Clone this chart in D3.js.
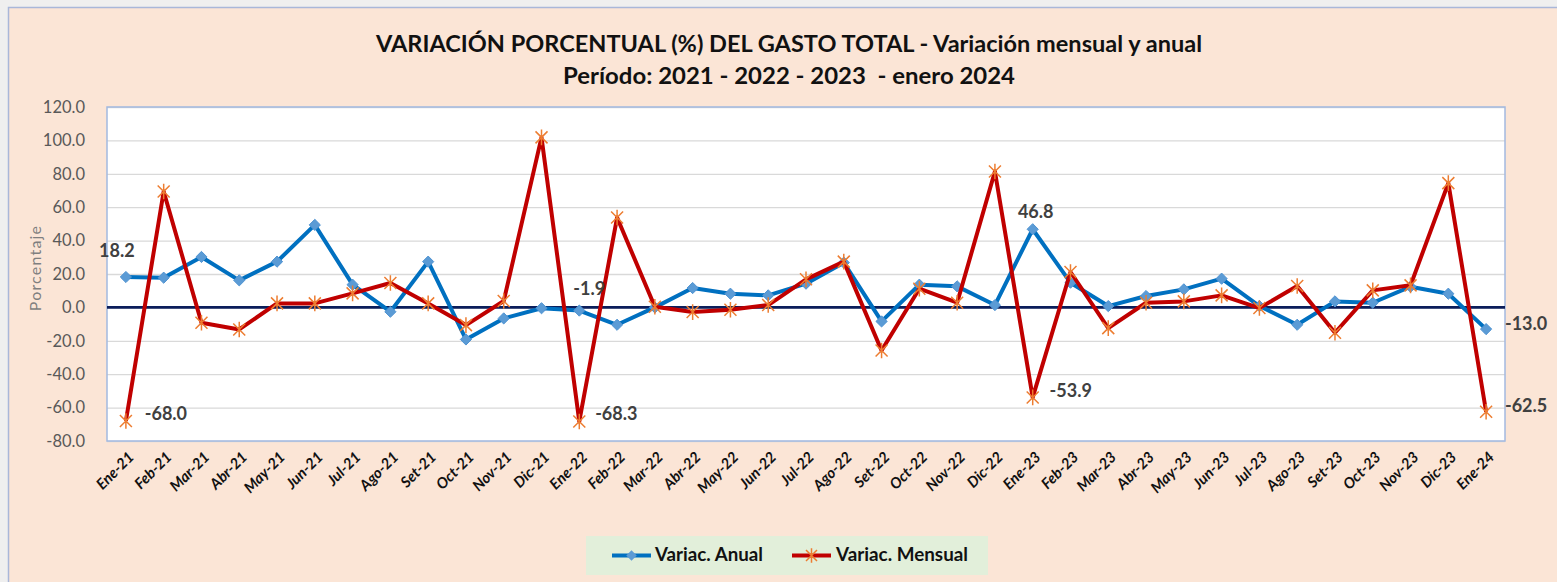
<!DOCTYPE html>
<html>
<head>
<meta charset="utf-8">
<script src="https://cdn.jsdelivr.net/npm/d3@7"></script>
<style>
  html, body { margin: 0; padding: 0; background: #efefef; }
  svg { display: block; }
  .grid line { stroke: #d9d9d9; stroke-width: 1.3; }
  .grid path { display: none; }
  .axis path, .axis line { display: none; }
  .axis.y text { font-family: Lato, sans-serif; font-size: 16.5px; fill: #595959; }
  .axis.x text { font-family: Lato, sans-serif; font-size: 15px; font-weight: bold; font-style: italic; fill: #111; }
  .data-label { font-family: Lato, sans-serif; font-size: 18px; font-weight: bold; fill: #404040; }
</style>
</head>
<body>
<div id="figure-container"></div>
<script>
// categories
var months = ['Ene','Feb','Mar','Abr','May','Jun','Jul','Ago','Set','Oct','Nov','Dic'];
var categories = [];
['21','22','23'].forEach(function(yr){ months.forEach(function(m){ categories.push(m + '-' + yr); }); });
categories.push('Ene-24');

// Variac. Anual
var anual = [18.2, 17.8, 30.2, 16.2, 27.4, 49.4, 13.6, -2.6, 27.4, -19.2, -6.6, -0.5,
             -1.9, -10.4, 0.0, 11.6, 8.2, 7.2, 14.2, 26.8, -8.4, 13.6, 12.6, 1.4,
             46.8, 14.8, 0.8, 6.8, 10.8, 17.2, 0.8, -10.4, 3.6, 2.8, 12.4, 8.2,
             -13.0];
// Variac. Mensual
var mensual = [-68.0, 69.4, -9.2, -13.2, 2.4, 2.4, 8.4, 14.6, 2.4, -10.6, 3.8, 101.8,
               -68.3, 53.8, 0.4, -2.8, -1.4, 1.4, 16.8, 27.4, -25.8, 11.2, 2.8, 81.4,
               -53.9, 21.2, -12.4, 2.8, 3.6, 7.2, -0.4, 12.8, -15.2, 10.2, 13.2, 74.4,
               -62.5];

var yTicks = [-80, -60, -40, -20, 0, 20, 40, 60, 80, 100, 120];

// indexes of the labelled points
var labelledAnual = [0, 12, 24, 36];
var labelledMensual = [0, 12, 24, 36];

var titleLines = ['VARIACIÓN PORCENTUAL (%) DEL GASTO TOTAL - Variación mensual y anual',
                  'Período: 2021 - 2022 - 2023  - enero 2024'];
var seriesNames = ['Variac. Anual', 'Variac. Mensual'];

var fmt = d3.formatLocale({decimal: '.', thousands: ',', grouping: [3], currency: ['', ''], minus: '-'}).format('.1f');

var fullWidth = 1557, fullHeight = 582;
var margin = {top: 107, left: 107, right: 52, bottom: 141};
var width = fullWidth - margin.left - margin.right;
var height = fullHeight - margin.top - margin.bottom;

var root = d3.select('#figure-container').append('svg')
  .attr('width', fullWidth)
  .attr('height', fullHeight);

// outer chart frame
root.append('rect')
  .attr('x', 8.5).attr('y', 7.5)
  .attr('width', fullWidth).attr('height', fullHeight)
  .attr('fill', '#fbe5d6')
  .attr('stroke', '#a9b7d9').attr('stroke-width', 1.5);

// title
var titleW = [826, 452];
titleLines.forEach(function(t, i){
  root.append('text')
    .attr('x', 789).attr('y', 52 + i * 32)
    .attr('text-anchor', 'middle')
    .attr('textLength', titleW[i])
    .attr('lengthAdjust', 'spacingAndGlyphs')
    .style('white-space', 'pre')
    .style('font-family', 'Lato, sans-serif')
    .style('font-weight', 'bold')
    .style('font-size', '22px')
    .style('fill', '#111')
    .text(t);
});

var svg = root.append('g')
  .attr('transform', `translate(${margin.left},${margin.top})`);

var xScale = d3.scaleBand()
  .domain(categories)
  .range([0, width]);

var yScale = d3.scaleLinear()
  .domain([-80, 120])
  .range([height, 0]);

var cx = function(i){ return xScale(categories[i]) + xScale.bandwidth() / 2; };

svg.append('rect')
  .attr('width', width).attr('height', height)
  .attr('fill', '#fff');

var yGrid = d3.axisLeft(yScale).tickValues(yTicks).tickSize(-width).tickFormat('');
svg.append('g').attr('class', 'grid y').call(yGrid);

svg.append('rect')
  .attr('width', width).attr('height', height)
  .attr('fill', 'none')
  .attr('stroke', '#a3b9e0').attr('stroke-width', 1.5);

// zero line
svg.append('line')
  .attr('x1', 0).attr('x2', width)
  .attr('y1', yScale(0)).attr('y2', yScale(0))
  .attr('stroke', '#0b1e5b').attr('stroke-width', 2.8);

var yAxis = d3.axisLeft(yScale).tickValues(yTicks).tickFormat(fmt).tickPadding(16);
svg.append('g').attr('class', 'axis y').call(yAxis);

var xAxis = d3.axisBottom(xScale).tickSize(0);
svg.append('g').attr('class', 'axis x')
  .attr('transform', `translate(0,${height})`)
  .call(xAxis)
  .selectAll('text')
    .attr('text-anchor', 'end')
    .attr('dy', null)
    .attr('y', 0)
    .attr('transform', 'translate(9,17) rotate(-45)');

root.append('text')
  .attr('transform', 'translate(41,268) rotate(-90)')
  .attr('text-anchor', 'middle')
  .style('font-family', 'Lato, sans-serif')
  .style('font-size', '16px')
  .style('letter-spacing', '1.2px')
  .style('fill', '#7f7f7f')
  .text('Porcentaje');

var line = d3.line()
  .x(function(d, i){ return cx(i); })
  .y(function(d){ return yScale(d); });

var dataArea = svg.append('g').attr('class', 'data-area');

// anual
dataArea.append('path').datum(anual)
  .attr('d', line)
  .attr('fill', 'none').attr('stroke', '#0070c0').attr('stroke-width', 4)
  .attr('stroke-linejoin', 'round');
dataArea.append('g').selectAll('path').data(anual).enter()
  .append('path')
  .attr('d', d3.symbol(d3.symbolDiamond2, 80)())
  .attr('transform', function(d, i){ return `translate(${cx(i)},${yScale(d)})`; })
  .attr('fill', '#5b9bd5').attr('stroke', '#4f93d2').attr('stroke-width', 1);

// mensual
dataArea.append('path').datum(mensual)
  .attr('d', line)
  .attr('fill', 'none').attr('stroke', '#c00000').attr('stroke-width', 4)
  .attr('stroke-linejoin', 'round');
var star = function(s){
  return `M${-s},${-s}L${s},${s}M${-s},${s}L${s},${-s}M0,${-s * 1.3}L0,${s * 1.3}`;
};
dataArea.append('g').selectAll('path').data(mensual).enter()
  .append('path')
  .attr('d', star(6))
  .attr('transform', function(d, i){ return `translate(${cx(i)},${yScale(d)})`; })
  .attr('fill', 'none').attr('stroke', '#ed7d31').attr('stroke-width', 1.5);

// data labels: [dx of centre, baseline dy] from the point
var anualOffsets = [[-9, -20], [10, -16], [3, -11], [40, 1]];
var mensualOffsets = [[40, -1], [37, -1], [38, 0], [40, 0]];
labelledAnual.forEach(function(i, k){
  svg.append('text').attr('class', 'data-label')
    .attr('x', cx(i) + anualOffsets[k][0])
    .attr('y', yScale(anual[i]) + anualOffsets[k][1])
    .attr('text-anchor', 'middle')
    .text(fmt(anual[i]));
});
labelledMensual.forEach(function(i, k){
  svg.append('text').attr('class', 'data-label')
    .attr('x', cx(i) + mensualOffsets[k][0])
    .attr('y', yScale(mensual[i]) + mensualOffsets[k][1])
    .attr('text-anchor', 'middle')
    .text(fmt(mensual[i]));
});

// legend
var legend = root.append('g').attr('transform', 'translate(586,536)');
legend.append('rect').attr('width', 402).attr('height', 39).attr('fill', '#e2efda');
var legendItems = [
  {x0: 26, text: 655 - 586, tw: 108, color: '#0070c0', mk: '#5b9bd5', kind: 'diamond'},
  {x0: 206, text: 836 - 586, tw: 132, color: '#c00000', mk: '#ed7d31', kind: 'star'}
];
legendItems.forEach(function(it, k){
  legend.append('line')
    .attr('x1', it.x0).attr('x2', it.x0 + 39)
    .attr('y1', 19.5).attr('y2', 19.5)
    .attr('stroke', it.color).attr('stroke-width', 4);
  if (it.kind === 'diamond') {
    legend.append('path')
      .attr('d', d3.symbol(d3.symbolDiamond2, 70)())
      .attr('transform', `translate(${it.x0 + 19.5},19.5)`)
      .attr('fill', it.mk);
  } else {
    legend.append('path')
      .attr('d', star(5.5))
      .attr('transform', `translate(${it.x0 + 19.5},19.5)`)
      .attr('fill', 'none').attr('stroke', it.mk).attr('stroke-width', 1.5);
  }
  legend.append('text')
    .attr('x', it.text).attr('y', 25)
    .attr('textLength', it.tw)
    .attr('lengthAdjust', 'spacingAndGlyphs')
    .style('font-family', 'Lato, sans-serif')
    .style('font-weight', 'bold')
    .style('font-size', '18px')
    .style('fill', '#111')
    .text(seriesNames[k]);
});
</script>
</body>
</html>
